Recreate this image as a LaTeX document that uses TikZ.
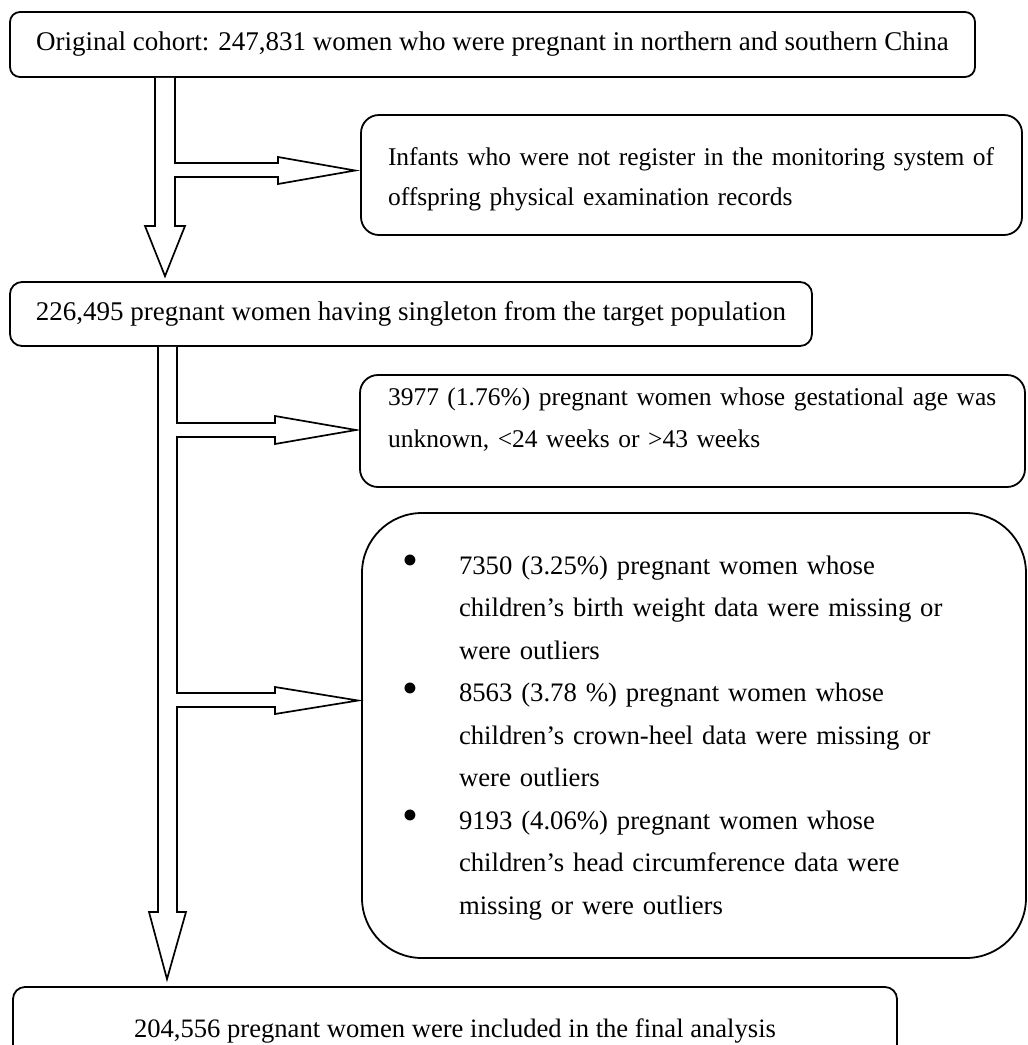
\documentclass[tikz,border=0pt]{standalone}
\usepackage{fontspec}
\setmainfont{Liberation Serif}
\usetikzlibrary{calc}
\newcommand\mybul{\makebox[79pt][l]{\hspace{22pt}\raisebox{-1.5pt}{\scalebox{1.7}{\textbullet}}}}
\begin{document}
\begin{tikzpicture}[x=1pt,y=-1pt,
  box/.style={draw, line width=1.8pt, rounded corners=#1, inner ysep=0pt,
              font=\fontsize{27}{40}\selectfont},
  box/.default=12pt,
  fatarrow/.style={draw, fill=white, line width=1.7pt, line join=miter}]
\useasboundingbox (0,0) rectangle (1028,1045);
\clip (0,0) rectangle (1028,1045);

% boxes
\node[box=10pt, minimum width=965pt, minimum height=65pt] (b1) at (492.5,44.5)
  {Original cohort: 247,831 women who were pregnant in northern and southern China};

\node[box=18pt, text width=607pt, inner xsep=27pt, align=left, minimum height=120pt,
      font=\fontsize{25.5}{40}\selectfont] (b2) at (691.5,175)
  {\mbox{\rule{0pt}{27pt}Infants who were not register in the monitoring system of}\\offspring physical examination records};

\node[box, minimum width=802pt, minimum height=64pt] (b3) at (411,314)
  {226,495 pregnant women having singleton from the target population};

\node[box=18pt, text width=609pt, inner xsep=28pt, align=left, minimum height=112pt,
      font=\fontsize{25.5}{42}\selectfont] (b4) at (692.5,431)
  {\mbox{3977 (1.76\%) pregnant women whose gestational age was}\\unknown, <24 weeks or >43 weeks\rule[-27pt]{0pt}{0pt}};

\node[box=60pt, text width=628pt, inner xsep=18pt, align=left, minimum height=445pt,
      font=\fontsize{26.7}{42.5}\selectfont] (b5) at (694,735.5)
  {\begin{tabular}{@{}l@{}l@{}}
   \mybul & 7350 (3.25\%) pregnant women whose\\
          & children’s birth weight data were missing or\\
          & were outliers\\
   \mybul & 8563 (3.78 \%) pregnant women whose\\
          & children’s crown-heel data were missing or\\
          & were outliers\\
   \mybul & 9193 (4.06\%) pregnant women whose\\
          & children’s head circumference data were\\
          & missing or were outliers
   \end{tabular}};

\node[box, minimum width=884pt, minimum height=88pt, font=\fontsize{26.6}{40}\selectfont] (b6) at (455,1031)
  {204,556 pregnant women were included in the final analysis};

% first fat arrow: b1 -> b3, branch -> b2
\draw[fatarrow] (155,0 |- b1.south) -- (155,226) -- (145,226)
  -- ($(165,0 |- b3.north)+(0,-5)$) -- (185,226) -- (175,226)
  -- (175,177) -- (278,177) -- (278,184)
  -- ($(b2.west |- 0,170.5)+(-5,0)$)
  -- (278,157) -- (278,163) -- (175,163) -- (175,0 |- b1.south);

% second fat arrow: b3 -> b6, branches -> b4, b5
\draw[fatarrow] (158,0 |- b3.south) -- (158,912) -- (149,912)
  -- ($(167,0 |- b6.north)+(0,-7)$) -- (186,912) -- (177,912)
  -- (177,707) -- (275,707) -- (275,714)
  -- ($(b5.west |- 0,700.5)+(-3,0)$)
  -- (275,687) -- (275,693) -- (177,693)
  -- (177,437) -- (275,437) -- (275,444)
  -- ($(b4.west |- 0,430)+(-3,0)$)
  -- (275,416) -- (275,423) -- (177,423) -- (177,0 |- b3.south);
\end{tikzpicture}
\end{document}
